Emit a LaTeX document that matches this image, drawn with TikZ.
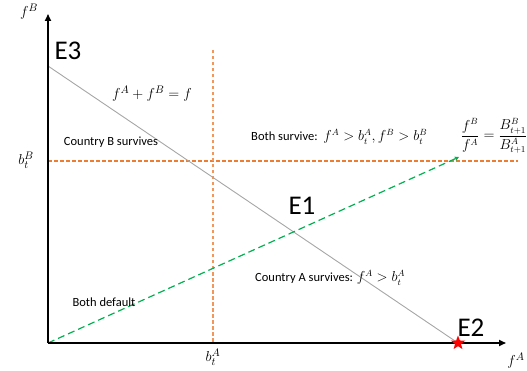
\documentclass[tikz,border=0pt]{standalone}
\usepackage{amsmath}
\usepackage{fontspec}
\setmainfont{Carlito}
\usetikzlibrary{arrows.meta,shapes.geometric}
\definecolor{offorange}{RGB}{237,125,49}
\definecolor{offgreen}{RGB}{0,176,80}
\begin{document}
\begin{tikzpicture}[x=1pt,y=-1pt,
  axis/.style={line width=1.6pt,-{Triangle[length=7pt,width=6pt]}},
  budget/.style={line width=0.9pt,color=black!35},
  thresh/.style={line width=1.2pt,draw=offorange,dash pattern=on 3.5pt off 2.5pt},
  vthresh/.style={line width=1.6pt,draw=offorange!80,dash pattern=on 3.5pt off 2.5pt},
  ratio/.style={line width=1.2pt,color=offgreen,dash pattern=on 7pt off 4pt,-{Triangle[length=4pt,width=4pt]}},
  lbl/.style={font=\fontsize{12.5}{14}\selectfont,inner sep=0pt},
  big/.style={font=\fontsize{27}{30}\selectfont,inner sep=0pt},
  mlab/.style={font=\fontsize{15}{17}\selectfont,inner sep=0pt}]
\useasboundingbox (0,0) rectangle (527,371);
\coordinate (O) at (48,343);
\coordinate (ytop) at (48,14);
\coordinate (xend) at (506,343);
\coordinate (E3p) at (48,66);
\coordinate (E2p) at (458,343);
\coordinate (hl) at (48,161);
\coordinate (hr) at (518,161);
\coordinate (vt) at (213,50);
\coordinate (vb) at (213,343);
\coordinate (gtip) at (459,157);
% thresholds
\draw[thresh] (hl) -- (hr);
\draw[vthresh] (vt) -- (vb);
% budget line
\draw[budget] (E3p) -- (E2p);
% ratio line
\draw[ratio] (O) -- (gtip);
% axes
\draw[axis] (O) -- (ytop);
\draw[axis] (O) -- (xend);
% star
\node[star,star points=5,star point ratio=2.4,fill=red,inner sep=0pt,minimum size=15pt] (star) at (E2p) {};
% labels
\node[mlab] (fB) at (29,12) {$f^{B}$};
\node[mlab] (fA) at (516,361) {$f^{A}$};
\node[big] (E3) at (68,51) {E3};
\node[big] (E1) at (302,206) {E1};
\node[big] (E2) at (471,328) {E2};
\node[mlab] (budlab) at (152,94) {$f^{A}+f^{B}=f$};
\node[lbl] (cB) at (111,142) {Country B survives};
\node[mlab] (bB) at (26,160) {$b_t^{B}$};
\node[mlab] (bA) at (213,357) {$b_t^{A}$};
\node[lbl,anchor=west] (both) at (251,137) {Both survive:\ \ \fontsize{13.5}{15}\selectfont$f^{A}>b_t^{A},f^{B}>b_t^{B}$};
\node[font=\fontsize{13.5}{15}\selectfont,inner sep=0pt] (frac) at (494,136) {$\dfrac{f^{B}}{f^{A}}=\dfrac{B_{t+1}^{B}}{B_{t+1}^{A}}$};
\node[lbl,anchor=west] (cA) at (255,278) {Country A survives: \fontsize{13.5}{15}\selectfont$f^{A}>b_t^{A}$};
\node[lbl] (bd) at (104,302) {Both default};
\end{tikzpicture}
\end{document}
